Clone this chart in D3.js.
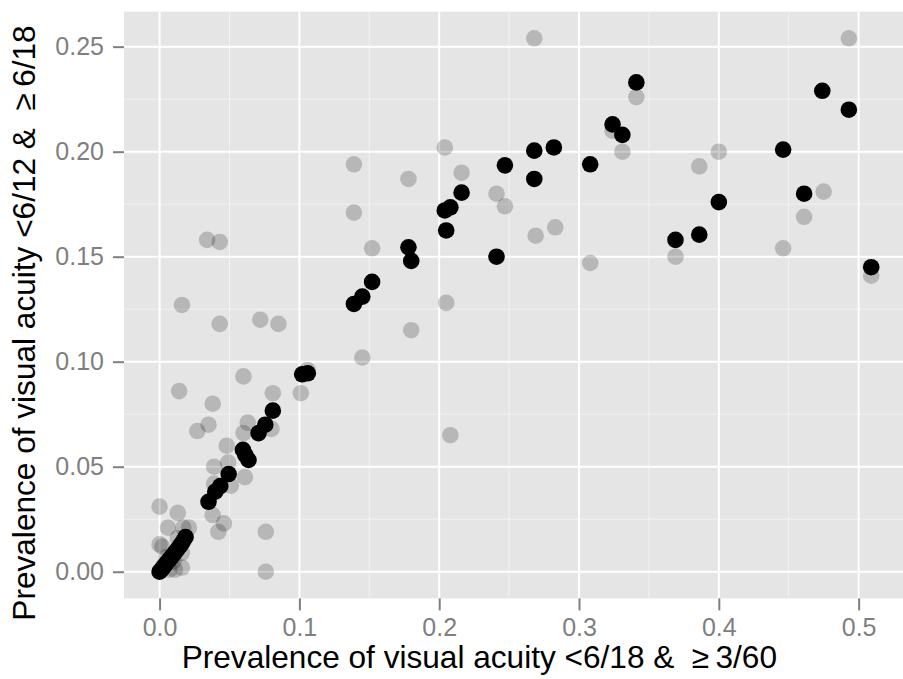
<!DOCTYPE html>
<html>
<head>
<meta charset="UTF-8">
<title></title>
<style>
body { margin: 0; background: #fff; }
.axis path { display: none; }
.axis line { stroke: #7f7f7f; stroke-width: 2; }
.axis text { font-family: "Liberation Sans", Arial, sans-serif; font-size: 25px; fill: #7f7f7f; }
.title { font-family: "Liberation Sans", Arial, sans-serif; font-size: 31.6px; fill: #000; white-space: pre; }
</style>
</head>
<body>
<script src="https://cdn.jsdelivr.net/npm/d3@7"></script>
<script>
// light grey points (drawn first, semi transparent)
var greyX = [0.268, 0.493, 0.341, 0.324, 0.204, 0.331, 0.400, 0.139, 0.386, 0.216,
             0.178, 0.475, 0.241, 0.247, 0.139, 0.461, 0.283, 0.269, 0.034, 0.043,
             0.152, 0.446, 0.369, 0.308, 0.509, 0.205, 0.016, 0.072, 0.043, 0.085,
             0.180, 0.145, 0.106, 0.060, 0.014, 0.081, 0.101, 0.038, 0.035, 0.027,
             0.063, 0.060, 0.080, 0.048, 0.039, 0.049, 0.061, 0.051, 0.039, 0.208,
             0.000, 0.013, 0.038, 0.046, 0.042, 0.076, 0.076, 0.006, 0.017, 0.021,
             0.000, 0.002, 0.016, 0.016, 0.011, 0.007, 0.010, 0.005, 0.003, 0.013];
var greyY = [0.254, 0.254, 0.226, 0.210, 0.202, 0.200, 0.200, 0.194, 0.193, 0.190,
             0.187, 0.181, 0.180, 0.174, 0.171, 0.169, 0.164, 0.160, 0.158, 0.157,
             0.154, 0.154, 0.150, 0.147, 0.141, 0.128, 0.127, 0.120, 0.118, 0.118,
             0.115, 0.102, 0.096, 0.093, 0.086, 0.085, 0.085, 0.080, 0.070, 0.067,
             0.071, 0.066, 0.068, 0.060, 0.050, 0.052, 0.045, 0.041, 0.042, 0.065,
             0.031, 0.028, 0.027, 0.023, 0.019, 0.019, 0.000, 0.021, 0.021, 0.021,
             0.013, 0.012, 0.009, 0.002, 0.001, 0.001, 0.005, 0.007, 0.003, 0.016];

// black points
var blackX = [0.341, 0.474, 0.493, 0.324, 0.331, 0.282, 0.268, 0.446, 0.247, 0.308,
              0.268, 0.216, 0.461, 0.400, 0.208, 0.204, 0.205, 0.386, 0.369, 0.178,
              0.241, 0.180, 0.509, 0.152, 0.145, 0.139, 0.106, 0.102, 0.081, 0.0756,
              0.0708, 0.0596, 0.0613, 0.0636, 0.0494, 0.0434, 0.0398, 0.035, 0.0186, 0.0168,
              0.0148, 0.0128, 0.0108, 0.0088, 0.0068, 0.0048, 0.003, 0.0015, 0.0];
var blackY = [0.233, 0.229, 0.220, 0.213, 0.208, 0.202, 0.2005, 0.201, 0.1935, 0.194,
              0.187, 0.1805, 0.180, 0.176, 0.1735, 0.172, 0.1625, 0.1605, 0.158, 0.1545,
              0.150, 0.148, 0.145, 0.138, 0.131, 0.1275, 0.0945, 0.094, 0.0767, 0.070,
              0.066, 0.058, 0.0556, 0.0532, 0.0465, 0.0408, 0.0381, 0.0333, 0.0165, 0.0145,
              0.0125, 0.0107, 0.009, 0.0073, 0.0056, 0.004, 0.0024, 0.0011, 0.0];

var xTicks = [0, 0.1, 0.2, 0.3, 0.4, 0.5];
var yTicks = [0, 0.05, 0.10, 0.15, 0.20, 0.25];
var xMinor = [0.05, 0.15, 0.25, 0.35, 0.45];
var yMinor = [0.025, 0.075, 0.125, 0.175, 0.225];

var xTitle = "Prevalence of visual acuity <6/18 &  \u2265\u20093/60";
var yTitle = "Prevalence of visual acuity <6/12 &  \u2265\u20096/18";

var width = 903, height = 679;
var svg = d3.select('body').append('svg')
    .attr('width', width)
    .attr('height', height);

var x = d3.scaleLinear().domain([-0.02545, 0.53445]).range([124, 906.8]);
var y = d3.scaleLinear().domain([-0.0127, 0.2667]).range([598.4, 11.6]);

// panel background
svg.append('rect')
    .attr('x', x.range()[0]).attr('y', y.range()[1])
    .attr('width', x.range()[1] - x.range()[0])
    .attr('height', y.range()[0] - y.range()[1])
    .attr('fill', '#e5e5e5');

// grid
var grid = svg.append('g');
grid.selectAll('.vminor').data(xMinor).enter().append('line')
    .attr('x1', x).attr('x2', x)
    .attr('y1', y.range()[0]).attr('y2', y.range()[1])
    .attr('stroke', '#f2f2f2').attr('stroke-width', 1);
grid.selectAll('.hminor').data(yMinor).enter().append('line')
    .attr('y1', y).attr('y2', y)
    .attr('x1', x.range()[0]).attr('x2', x.range()[1])
    .attr('stroke', '#f2f2f2').attr('stroke-width', 1);
grid.selectAll('.vmajor').data(xTicks).enter().append('line')
    .attr('x1', x).attr('x2', x)
    .attr('y1', y.range()[0]).attr('y2', y.range()[1])
    .attr('stroke', '#fff').attr('stroke-width', 2);
grid.selectAll('.hmajor').data(yTicks).enter().append('line')
    .attr('y1', y).attr('y2', y)
    .attr('x1', x.range()[0]).attr('x2', x.range()[1])
    .attr('stroke', '#fff').attr('stroke-width', 2);

// points
svg.append('g').selectAll('circle')
    .data(d3.range(greyX.length))
    .enter().append('circle')
    .attr('cx', function(i) { return x(greyX[i]); })
    .attr('cy', function(i) { return y(greyY[i]); })
    .attr('r', 8.3)
    .attr('fill', '#000')
    .attr('fill-opacity', 0.2);

svg.append('g').selectAll('circle')
    .data(d3.range(blackX.length))
    .enter().append('circle')
    .attr('cx', function(i) { return x(blackX[i]); })
    .attr('cy', function(i) { return y(blackY[i]); })
    .attr('r', 8.3)
    .attr('fill', '#000');

// axes
svg.append('g')
    .attr('class', 'axis')
    .attr('transform', 'translate(0,' + y.range()[0] + ')')
    .call(d3.axisBottom(x).tickValues(xTicks).tickFormat(d3.format('.1f')).tickSize(12).tickPadding(8));

svg.append('g')
    .attr('class', 'axis')
    .attr('transform', 'translate(' + x.range()[0] + ',0)')
    .call(d3.axisLeft(y).tickValues(yTicks).tickFormat(d3.format('.2f')).tickSize(11).tickPadding(9));

// titles
svg.append('text')
    .attr('class', 'title')
    .attr('x', 181.7).attr('y', 668)
    .text(xTitle);

svg.append('text')
    .attr('class', 'title')
    .attr('text-anchor', 'middle')
    .attr('transform', 'translate(35,323) rotate(-90)')
    .text(yTitle);
</script>
</body>
</html>
